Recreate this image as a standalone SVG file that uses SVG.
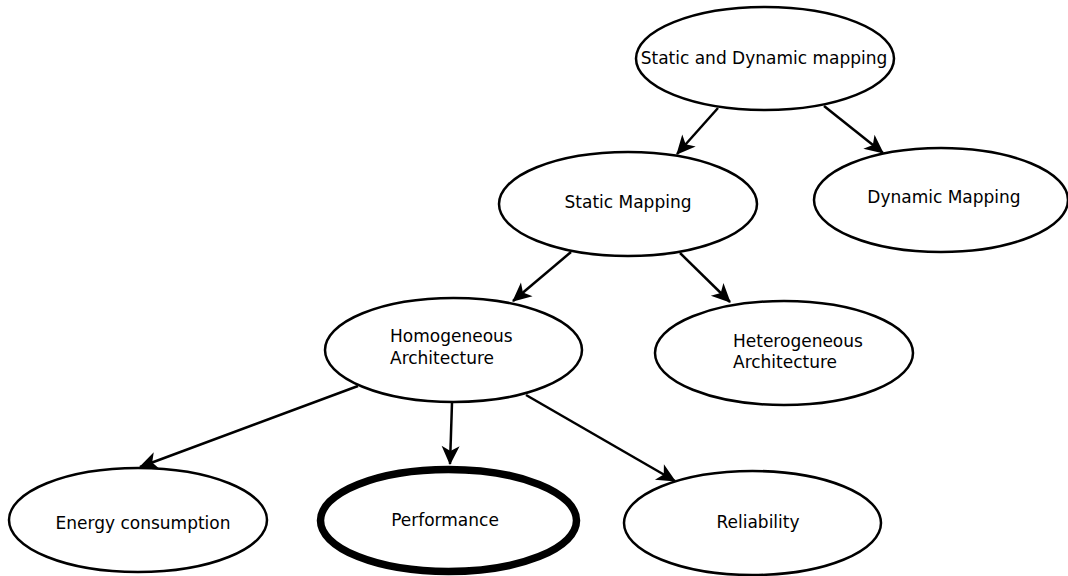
<svg xmlns="http://www.w3.org/2000/svg" width="1068" height="576" viewBox="0 0 1068 576">
<style>
.n ellipse{fill:#fff;stroke:#000;stroke-width:2.5}
.n text{font-family:"DejaVu Sans",sans-serif;font-size:17px;fill:#000}
.c line{stroke:#000;stroke-width:2.5;marker-end:url(#ah)}
</style>
<defs>
<marker id="ah" markerUnits="userSpaceOnUse" markerWidth="24" markerHeight="24" viewBox="-20 -12 24 24" refX="0" refY="0" orient="auto">
<path d="M1,0 L-18,-9 L-13,0 L-18,9 Z" fill="#000"/>
</marker>
</defs>
<rect width="1068" height="576" fill="#fff"/>
<g class="c" id="connectors">
<line x1="718" y1="108" x2="677" y2="154"/>
<line x1="824" y1="106" x2="883" y2="153"/>
<line x1="571" y1="252" x2="513" y2="301"/>
<line x1="680" y1="253" x2="730" y2="302"/>
<line x1="358" y1="386" x2="140" y2="467"/>
<line x1="452" y1="403" x2="450" y2="464"/>
<line x1="526" y1="395" x2="675" y2="481"/>
</g>
<g class="n" id="n-static-dynamic">
<ellipse cx="765" cy="58.5" rx="129" ry="51.5"/>
<text x="764" y="64" text-anchor="middle">Static and Dynamic mapping</text>
</g>
<g class="n" id="n-static">
<ellipse cx="628" cy="204" rx="129" ry="52"/>
<text x="628" y="208" text-anchor="middle">Static Mapping</text>
</g>
<g class="n" id="n-dynamic">
<ellipse cx="941" cy="200" rx="127" ry="52"/>
<text x="944" y="203" text-anchor="middle">Dynamic Mapping</text>
</g>
<g class="n" id="n-homogeneous">
<ellipse cx="453.5" cy="350" rx="128.5" ry="52"/>
<text x="390" y="342">Homogeneous</text>
<text x="390" y="364">Architecture</text>
</g>
<g class="n" id="n-heterogeneous">
<ellipse cx="784" cy="353" rx="129" ry="52"/>
<text x="733" y="347">Heterogeneous</text>
<text x="733" y="368">Architecture</text>
</g>
<g class="n" id="n-energy">
<ellipse cx="138" cy="520" rx="129" ry="52"/>
<text x="143" y="529" text-anchor="middle">Energy consumption</text>
</g>
<g class="n" id="n-performance">
<ellipse cx="448.5" cy="520.5" rx="128" ry="51" style="stroke-width:7.5"/>
<text x="445" y="526" text-anchor="middle">Performance</text>
</g>
<g class="n" id="n-reliability">
<ellipse cx="752.5" cy="523" rx="128.5" ry="52"/>
<text x="758" y="528" text-anchor="middle">Reliability</text>
</g>
</svg>
